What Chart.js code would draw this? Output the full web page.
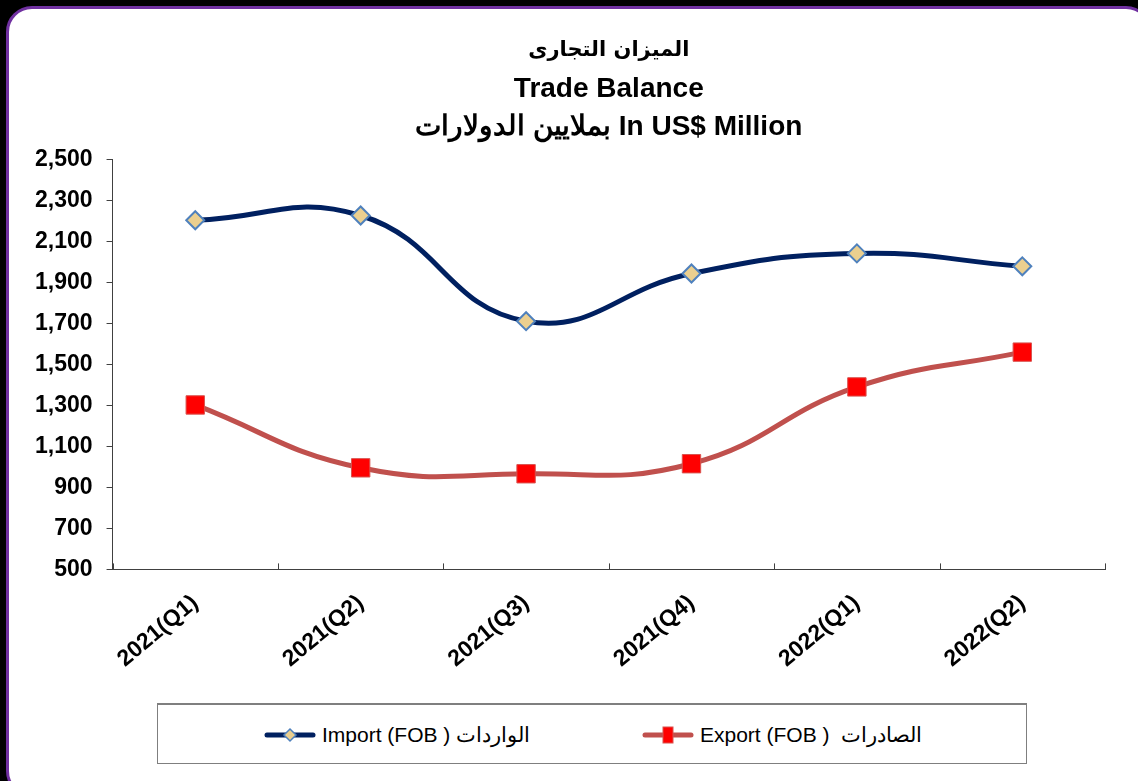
<!DOCTYPE html>
<html>
<head>
<meta charset="utf-8">
<script src="https://cdn.jsdelivr.net/npm/chart.js@4/dist/chart.umd.min.js"></script>
<style>
  html, body { margin: 0; padding: 0; background: #000; overflow: hidden; }
  #frame {
    position: absolute; left: 6px; top: 6px; width: 1140px; height: 785px;
    border: 3px solid #7030a0; border-radius: 26px; background: #fff;
  }
  #wrap { position: absolute; left: 0; top: 0; width: 1138px; height: 781px; }
  #legend {
    position: absolute; left: 157px; top: 703px; width: 868px; height: 58px;
    border: 1px solid #7f7f7f; border-top: 2px solid #7f7f7f; background: #fff;
    font-family: 'Liberation Sans', Arial, sans-serif; font-size: 21px; color: #000;
  }
  .item { position: absolute; top: 18px; display: flex; align-items: center; white-space: pre; }
  .item canvas { margin-right: 6px; }
</style>
</head>
<body>
<div id="frame"></div>
<div id="wrap"><canvas id="tradeChart" width="1138" height="781"></canvas></div>
<div id="legend"></div>
<script>
const categories = ["2021(Q1)", "2021(Q2)", "2021(Q3)", "2021(Q4)", "2022(Q1)", "2022(Q2)"];
const importValues = [2205, 2228, 1712, 1945, 2043, 1980];
const exportValues = [1303, 996, 967, 1016, 1391, 1561];
const seriesLabels = ["Import (FOB ) الواردات", "Export (FOB )  الصادرات"];
const yMin = 500, yMax = 2500, yStep = 200;

const extras = {
  id: "extras",
  afterDraw(chart) {
    const ctx = chart.ctx, x = chart.scales.x, a = chart.chartArea;
    ctx.save();
    // upward tick marks on the category boundaries
    ctx.strokeStyle = "#404040"; ctx.lineWidth = 1;
    const w = (x.right - x.left) / categories.length;
    for (let i = 0; i <= categories.length; i++) {
      const px = Math.round(x.left + i * w) + 0.5;
      ctx.beginPath(); ctx.moveTo(px, a.bottom); ctx.lineTo(px, a.bottom - 6); ctx.stroke();
    }
    ctx.restore();
  }
};

const chart = new Chart(document.getElementById("tradeChart"), {
  type: "line",
  data: {
    labels: categories,
    datasets: [{
      label: seriesLabels[0],
      data: importValues,
      borderColor: "#002060",
      borderWidth: 5,
      tension: 0.45,
      pointStyle: "rectRot",
      pointRadius: 9,
      pointBackgroundColor: "#ebcf8f",
      pointBorderColor: "#4f81bd",
      pointBorderWidth: 2
    }, {
      label: seriesLabels[1],
      data: exportValues,
      borderColor: "#c0504d",
      borderWidth: 5,
      tension: 0.45,
      pointStyle: "rect",
      pointRadius: 13,
      pointBackgroundColor: "#ff0000",
      pointBorderColor: "#d9534f",
      pointBorderWidth: 1
    }]
  },
  options: {
    responsive: false,
    animation: false,
    layout: { padding: { left: 21, right: 33, top: 38, bottom: 96 } },
    plugins: {
      tooltip: { enabled: false },
      legend: { display: false },
      title: {
        display: true,
        fullSize: false,
        text: "الميزان التجارى",
        color: "#000",
        font: { family: "'DejaVu Sans', Arial, sans-serif", size: 21, weight: "bold" },
        padding: { top: 0, bottom: 7 }
      },
      subtitle: {
        display: true,
        fullSize: false,
        text: ["Trade Balance", "بملايين الدولارات In US$ Million"],
        color: "#000",
        font: { family: "'Liberation Sans', Arial, sans-serif", size: 28, weight: "bold", lineHeight: 1.35 },
        padding: { top: 0, bottom: 14 }
      }
    },
    scales: {
      x: {
        offset: true,
        grid: { display: false },
        border: { display: true, color: "#404040", width: 1 },
        ticks: {
          color: "#000",
          maxRotation: 40, minRotation: 40,
          padding: 12,
          font: { family: "'Liberation Sans', Arial, sans-serif", size: 23, weight: "bold" }
        }
      },
      y: {
        min: yMin, max: yMax,
        grid: { drawOnChartArea: false, tickLength: 6, color: "#404040" },
        border: { display: true, color: "#404040", width: 1 },
        ticks: {
          stepSize: yStep,
          color: "#000",
          padding: 14,
          font: { family: "'Liberation Sans', Arial, sans-serif", size: 23, weight: "bold" },
          callback: v => v.toLocaleString("en-US")
        }
      }
    }
  },
  plugins: [extras]
});

// legend: line + marker sample followed by the label text
function legendIcon(ds) {
  const c = document.createElement("canvas");
  c.width = 52; c.height = 22;
  const g = c.getContext("2d");
  g.strokeStyle = ds.borderColor; g.lineWidth = 5; g.lineCap = "round";
  g.beginPath(); g.moveTo(3, 11); g.lineTo(49, 11); g.stroke();
  g.fillStyle = ds.pointBackgroundColor; g.strokeStyle = ds.pointBorderColor;
  if (ds.pointStyle === "rectRot") {
    g.lineWidth = 1.5;
    g.beginPath(); g.moveTo(26, 5); g.lineTo(32, 11); g.lineTo(26, 17); g.lineTo(20, 11); g.closePath();
    g.fill(); g.stroke();
  } else {
    g.lineWidth = 1;
    g.fillRect(21, 3, 10, 16); g.strokeRect(21, 3, 10, 16);
  }
  return c;
}
const legendLeft = [106, 484];
chart.data.datasets.forEach((ds, i) => {
  const item = document.createElement("div");
  item.className = "item";
  item.style.left = legendLeft[i] + "px";
  item.appendChild(legendIcon(ds));
  const span = document.createElement("span");
  span.textContent = ds.label;
  span.dir = "ltr";
  item.appendChild(span);
  document.getElementById("legend").appendChild(item);
});
</script>
</body>
</html>
